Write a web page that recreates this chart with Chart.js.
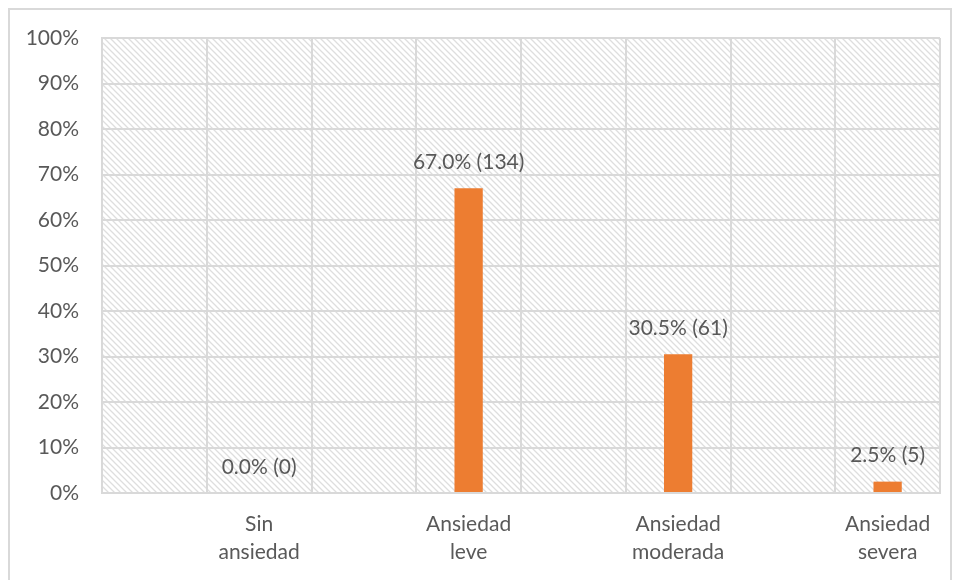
<!DOCTYPE html>
<html>
<head>
<meta charset="utf-8">
<script src="https://cdn.jsdelivr.net/npm/chart.js@4.4.0/dist/chart.umd.min.js"></script>
<style>
    body{margin:0;background:#fff;}
    #wrap{position:relative;width:956px;height:580px;}
    #marco{position:absolute;left:8px;top:8px;width:944px;height:580px;border:2px solid #d9d9d9;box-sizing:border-box;}
    canvas{position:absolute;left:0;top:0;}
</style>
</head>
<body>
<div id="wrap">
    <div id="marco"></div>
    <canvas id="chart" width="956" height="580"></canvas>
</div>
<script>
const categorias = [['Sin', 'ansiedad'], ['Ansiedad', 'leve'], ['Ansiedad', 'moderada'], ['Ansiedad', 'severa']]
const porcentajes = [0.0, 67.0, 30.5, 2.5]
const frecuencias = [0, 134, 61, 5]
const ticksY = [0, 10, 20, 30, 40, 50, 60, 70, 80, 90, 100]

// En el original cada categoria ocupa dos columnas de la grilla (la primera vacia)
var labels = []
var valores = []
for(let i = 0; i < categorias.length; i++){
    labels.push('')
    valores.push(null)
    labels.push(categorias[i])
    valores.push(porcentajes[i])
}

const colorTexto = '#595959'
const colorGrilla = '#d9d9d9'
const fuente = 'Lato, "Open Sans", sans-serif'

function hacerTrama(){
    let c = document.createElement('canvas')
    c.width = 6
    c.height = 6
    let g = c.getContext('2d')
    g.strokeStyle = '#dedede'
    g.lineWidth = 1.3
    g.beginPath()
    g.moveTo(-1, -1); g.lineTo(7, 7)
    g.moveTo(-1, 5); g.lineTo(1, 7)
    g.moveTo(5, -1); g.lineTo(7, 1)
    g.stroke()
    return g.createPattern(c, 'repeat')
}

const fondoTrama = {
    id: 'fondoTrama',
    beforeDraw(chart){
        let a = chart.chartArea
        let ctx = chart.ctx
        ctx.save()
        ctx.fillStyle = hacerTrama()
        ctx.fillRect(a.left, a.top, a.right - a.left, a.bottom - a.top)
        ctx.restore()
    }
}

const etiquetas = {
    id: 'etiquetas',
    afterDatasetsDraw(chart){
        let ctx = chart.ctx
        let meta = chart.getDatasetMeta(0)
        ctx.save()
        ctx.font = '21px ' + fuente
        ctx.fillStyle = colorTexto
        ctx.textAlign = 'center'
        ctx.textBaseline = 'middle'
        meta.data.forEach((bar, i) => {
            if(valores[i] === null) return
            let k = (i - 1) / 2
            let txt = porcentajes[k].toFixed(1) + '% (' + frecuencias[k] + ')'
            ctx.fillText(txt, bar.x, bar.y - 26)
        })
        ctx.restore()
    }
}

const ctx = document.getElementById('chart').getContext('2d')
const myChart = new Chart(ctx, {
    type: 'bar',
    data: {
        labels: labels,
        datasets: [{
            data: valores,
            backgroundColor: '#ED7D31',
            barPercentage: 0.27,
            categoryPercentage: 1
        }]
    },
    options: {
        responsive: false,
        animation: false,
        layout: {padding: {left: 10, top: 38, right: 16, bottom: 0}},
        plugins: {
            legend: {display: false},
            tooltip: {enabled: false}
        },
        scales: {
            x: {
                grid: {color: colorGrilla, lineWidth: 2, drawTicks: false},
                border: {color: colorGrilla, width: 2},
                ticks: {
                    color: colorTexto,
                    font: {family: fuente, size: 21, lineHeight: 1.35},
                    padding: 17,
                    maxRotation: 0,
                    autoSkip: false
                },
                afterFit(scale){ scale.height = 87 }
            },
            y: {
                min: 0,
                max: 100,
                afterBuildTicks(scale){ scale.ticks = ticksY.map(v => ({value: v})) },
                grid: {color: colorGrilla, lineWidth: 2, drawTicks: false},
                border: {color: colorGrilla, width: 2},
                ticks: {
                    color: colorTexto,
                    font: {family: fuente, size: 21},
                    padding: 23,
                    callback: v => v + '%'
                },
                afterFit(scale){ scale.width = 92 }
            }
        }
    },
    plugins: [fondoTrama, etiquetas]
})
</script>
</body>
</html>
